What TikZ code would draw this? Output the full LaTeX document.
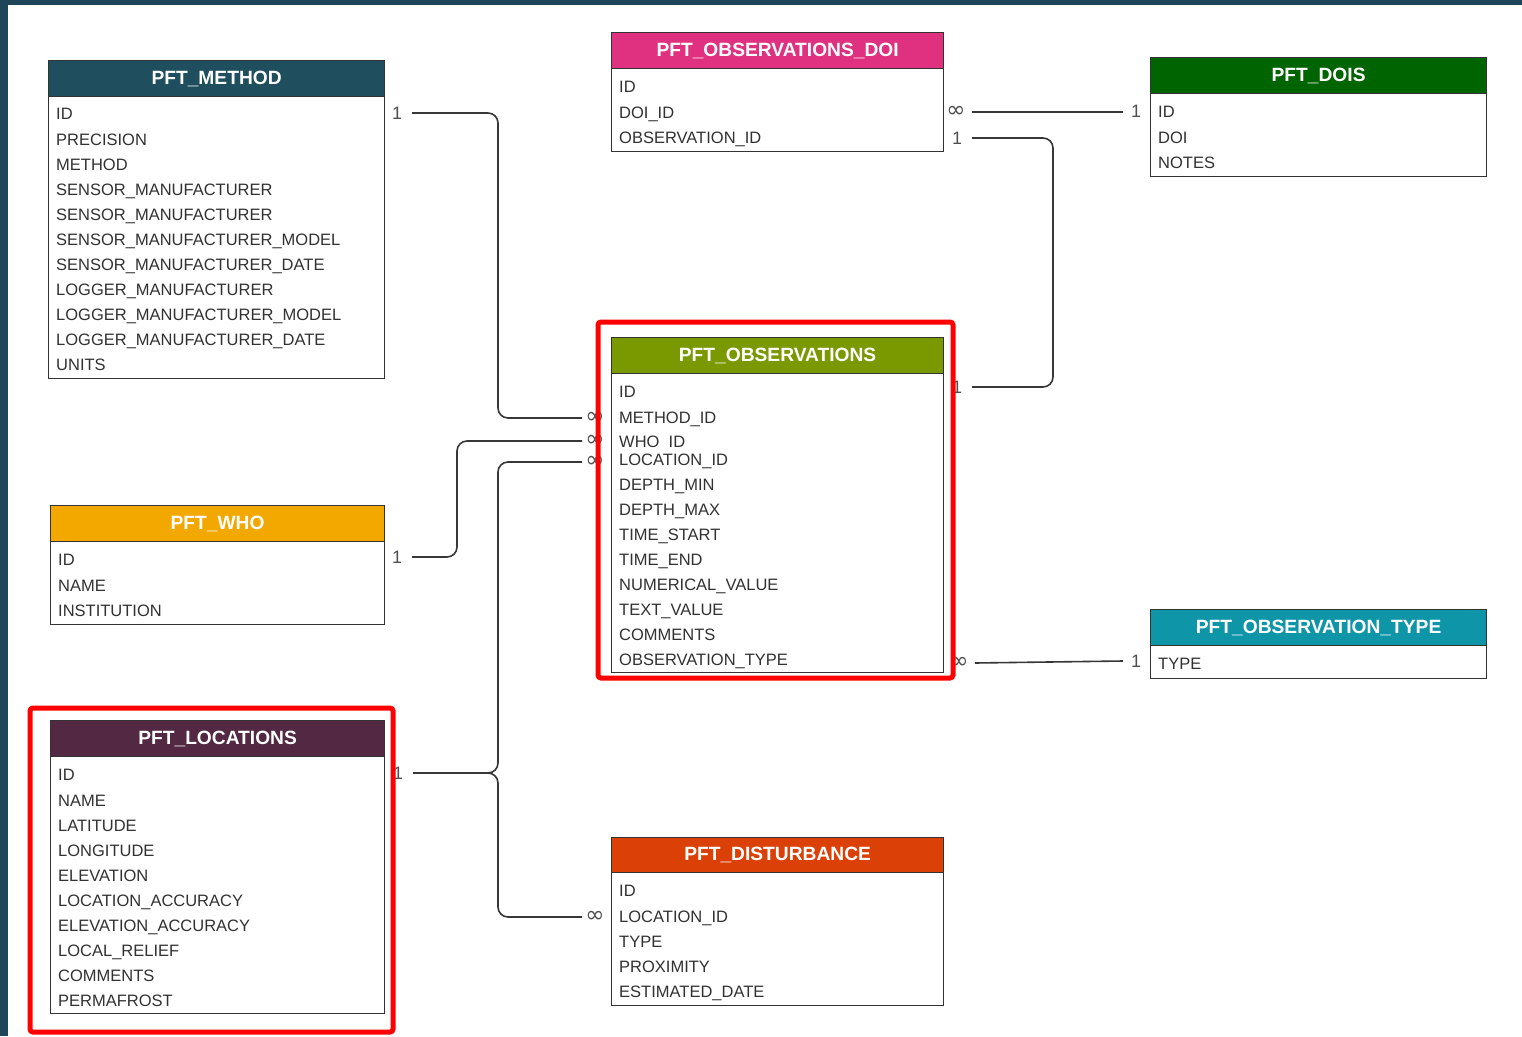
\documentclass[tikz,border=0pt]{standalone}
\usepackage{fontspec}
\setmainfont{Liberation Sans}
\newfontfamily\inffnt{DejaVu Sans}
\definecolor{band}{RGB}{30,70,88}
\definecolor{cMethod}{RGB}{31,78,94}
\definecolor{cDoi}{RGB}{224,49,128}
\definecolor{cDois}{RGB}{0,100,0}
\definecolor{cObs}{RGB}{122,153,1}
\definecolor{cWho}{RGB}{243,168,0}
\definecolor{cLoc}{RGB}{82,40,66}
\definecolor{cType}{RGB}{14,150,168}
\definecolor{cDist}{RGB}{219,65,6}
\definecolor{txt}{RGB}{50,50,50}
\definecolor{lbl}{RGB}{80,80,80}
\definecolor{lineC}{RGB}{55,55,55}
\tikzset{
  hdr/.style={draw=black!80, line width=1.2pt, text=white, font=\bfseries\fontsize{19.2}{21}\selectfont, inner sep=0pt, anchor=north west, minimum height=36pt},
  bodybox/.style={draw=black!80, line width=1.2pt, fill=white, inner sep=0pt, anchor=north west},
  fld/.style={anchor=base west, text=txt, font=\fontsize{16.5}{18}\selectfont, inner sep=0pt},
  card/.style={text=lbl, font=\fontsize{18}{20}\selectfont, inner sep=0pt},
  inf/.style={text=lbl, font=\inffnt\fontsize{23}{24}\selectfont, inner sep=0pt},
  conn/.style={draw=lineC, line width=1.6pt, rounded corners=10pt},
  hl/.style={draw=red, line width=5pt, rounded corners=3pt},
}
\begin{document}
\begin{tikzpicture}[x=1pt,y=-1pt]
\useasboundingbox (0,0) rectangle (1522,1036);
\fill[white] (0,0) rectangle (1522,1036);
\fill[band] (0,0) rectangle (1522,5);
\fill[band] (0,0) rectangle (8,1036);

% cardinality labels
\node[card] (oneM) at (397,113) {1};
\node[inf] (infM) at (595,418) {∞};
\node[inf] (infW) at (595,441) {∞};
\node[inf] (infLo) at (595,462) {∞};
\node[card] (oneW) at (397,557) {1};
\node[card] (oneL) at (398,773) {1};
\node[inf] (infD) at (595,917) {∞};
\node[inf] (infDOI) at (956,112) {∞};
\node[card] (oneDOIS) at (1136,111) {1};
\node[card] (oneDOI) at (957,138) {1};
\node[card] (oneObs) at (957,387) {1};
\node[inf] (infObs) at (959,663) {∞};
\node[card] (oneT) at (1136,661) {1};

% connectors
\draw[conn] ([xshift=10pt]oneM.east) -| (498,265) |- ([xshift=-3pt]infM.west);
\draw[conn] ([xshift=10pt]oneW.east) -| (457,500) |- ([xshift=-3pt]infW.west);
\draw[conn] ([xshift=10pt]oneL.east) -| (498,600) |- ([xshift=-3pt]infLo.west);
\draw[conn] ([xshift=10pt]oneL.east) -| (498,850) |- ([xshift=-3pt]infD.west);
\draw[conn] ([xshift=6pt]infDOI.east) -- ([xshift=-8pt]oneDOIS.west |- infDOI.east);
\draw[conn] ([xshift=10pt]oneDOI.east) -| (1053,260) |- ([xshift=10pt]oneObs.east);
\draw[conn] ([xshift=6pt]infObs.east) -- ([xshift=-8pt]oneT.west);

% PFT_METHOD
\node[bodybox, minimum width=336pt, minimum height=282pt] (methodB) at (48,96) {};
\node[hdr, fill=cMethod, minimum width=336pt] (methodH) at (48,60) {PFT\_METHOD};
\foreach \yy/\ft [count=\i] in {113/ID,139/PRECISION,164/METHOD,189/SENSOR\_MANUFACTURER,214/SENSOR\_MANUFACTURER,239/SENSOR\_MANUFACTURER\_MODEL,264/SENSOR\_MANUFACTURER\_DATE,289/LOGGER\_MANUFACTURER,314/LOGGER\_MANUFACTURER\_MODEL,339/LOGGER\_MANUFACTURER\_DATE,364/UNITS}
  \node[fld] (mf\i) at (56,\yy+6) {\ft};

% PFT_OBSERVATIONS_DOI
\node[bodybox, minimum width=332pt, minimum height=83pt] (doiB) at (611,68) {};
\node[hdr, fill=cDoi, minimum width=332pt] (doiH) at (611,32) {PFT\_OBSERVATIONS\_DOI};
\foreach \yy/\ft [count=\i] in {86/ID,112/DOI\_ID,137/OBSERVATION\_ID}
  \node[fld] (df\i) at (619,\yy+6) {\ft};

% PFT_DOIS
\node[bodybox, minimum width=336pt, minimum height=83pt] (doisB) at (1150,93) {};
\node[hdr, fill=cDois, minimum width=336pt] (doisH) at (1150,57) {PFT\_DOIS};
\foreach \yy/\ft [count=\i] in {111/ID,137/DOI,162/NOTES}
  \node[fld] (sf\i) at (1158,\yy+6) {\ft};

% PFT_OBSERVATIONS
\node[bodybox, minimum width=332pt, minimum height=299pt] (obsB) at (611,373) {};
\node[hdr, fill=cObs, minimum width=332pt] (obsH) at (611,337) {PFT\_OBSERVATIONS};
\foreach \yy/\ft [count=\i] in {391/ID,417/METHOD\_ID,441/WHO\hphantom{\_}ID,459/LOCATION\_ID,484/DEPTH\_MIN,509/DEPTH\_MAX,534/TIME\_START,559/TIME\_END,584/NUMERICAL\_VALUE,609/TEXT\_VALUE,634/COMMENTS,659/OBSERVATION\_TYPE}
  \node[fld] (of\i) at (619,\yy+6) {\ft};

% PFT_WHO
\node[bodybox, minimum width=334pt, minimum height=83pt] (whoB) at (50,541) {};
\node[hdr, fill=cWho, minimum width=334pt] (whoH) at (50,505) {PFT\_WHO};
\foreach \yy/\ft [count=\i] in {559/ID,585/NAME,610/INSTITUTION}
  \node[fld] (wf\i) at (58,\yy+6) {\ft};

% PFT_LOCATIONS
\node[bodybox, minimum width=334pt, minimum height=257pt] (locB) at (50,756) {};
\node[hdr, fill=cLoc, minimum width=334pt] (locH) at (50,720) {PFT\_LOCATIONS};
\foreach \yy/\ft [count=\i] in {774/ID,800/NAME,825/LATITUDE,850/LONGITUDE,875/ELEVATION,900/LOCATION\_ACCURACY,925/ELEVATION\_ACCURACY,950/LOCAL\_RELIEF,975/COMMENTS,1000/PERMAFROST}
  \node[fld] (lf\i) at (58,\yy+6) {\ft};

% PFT_OBSERVATION_TYPE
\node[bodybox, minimum width=336pt, minimum height=33pt] (typeB) at (1150,645) {};
\node[hdr, fill=cType, minimum width=336pt] (typeH) at (1150,609) {PFT\_OBSERVATION\_TYPE};
\node[fld] (tf1) at (1158,669) {TYPE};

% PFT_DISTURBANCE
\node[bodybox, minimum width=332pt, minimum height=133pt] (distB) at (611,872) {};
\node[hdr, fill=cDist, minimum width=332pt, minimum height=35pt] (distH) at (611,837) {PFT\_DISTURBANCE};
\foreach \yy/\ft [count=\i] in {890/ID,916/LOCATION\_ID,941/TYPE,966/PROXIMITY,991/ESTIMATED\_DATE}
  \node[fld] (xf\i) at (619,\yy+6) {\ft};

% highlight boxes
\draw[hl] (598,322) rectangle (953,678);
\draw[hl] (30,708) rectangle (393,1032);
\end{tikzpicture}
\end{document}
